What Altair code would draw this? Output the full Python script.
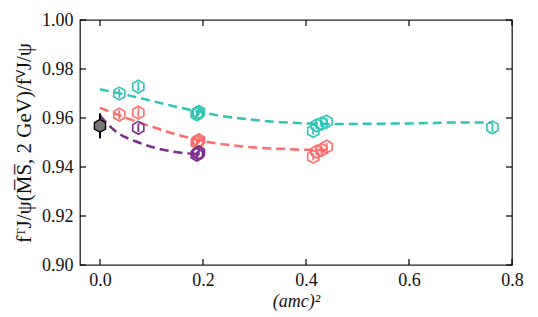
import altair as alt
import pandas as pd

# ---- data ----
teal_x = [0.0375, 0.0744, 0.188, 0.190, 0.192, 0.414, 0.421, 0.430, 0.440, 0.762]
teal_y = [0.9700, 0.9728, 0.9615, 0.9620, 0.9625, 0.9547, 0.9570, 0.9577, 0.9585, 0.9562]
teal_e = [0.0018, 0.0018, 0.0012, 0.0012, 0.0012, 0.0015, 0.0015, 0.0015, 0.0015, 0.0018]

red_x = [0.0375, 0.0744, 0.188, 0.190, 0.192, 0.414, 0.421, 0.430, 0.440]
red_y = [0.9614, 0.9622, 0.9500, 0.9505, 0.9510, 0.9442, 0.9463, 0.9470, 0.9483]
red_e = [0.0018, 0.0018, 0.0012, 0.0012, 0.0012, 0.0015, 0.0015, 0.0015, 0.0015]

pur_x = [0.0744, 0.188, 0.190, 0.192]
pur_y = [0.9560, 0.9450, 0.9455, 0.9460]
pur_e = [0.0018, 0.0012, 0.0012, 0.0012]

cont_x = [0.0]
cont_y = [0.9568]
cont_e = [0.0051]

teal_fit_x = [0.0, 0.05, 0.10, 0.15, 0.20, 0.25, 0.30, 0.35, 0.40, 0.45, 0.50, 0.55, 0.60, 0.65, 0.70, 0.762]
teal_fit_y = [0.9717, 0.9695, 0.9670, 0.9645, 0.9622, 0.9604, 0.9592, 0.9583, 0.9578, 0.9576, 0.9576, 0.9577, 0.9578, 0.9580, 0.9582, 0.9581]
red_fit_x = [0.0, 0.05, 0.10, 0.15, 0.20, 0.25, 0.30, 0.35, 0.40, 0.44]
red_fit_y = [0.9642, 0.9601, 0.9565, 0.9532, 0.9506, 0.9490, 0.9480, 0.9474, 0.9470, 0.9469]
pur_fit_x = [0.0, 0.03, 0.07, 0.11, 0.15, 0.19]
pur_fit_y = [0.9610, 0.9546, 0.9504, 0.9477, 0.9460, 0.9453]

x_ticks = [0.0, 0.2, 0.4, 0.6, 0.8]
y_ticks = [0.90, 0.92, 0.94, 0.96, 0.98, 1.00]

TEAL = "#2ec4b6"
RED = "#ff6b6b"
PURPLE = "#7b2d8e"

W, H = 432, 245
FONT = "Liberation Serif"
HEX = "M0,-1L0.866,-0.5L0.866,0.5L0,1L-0.866,0.5L-0.866,-0.5Z"

xs = alt.Scale(domain=[-0.0388, 0.8], nice=False, zero=False)
ys = alt.Scale(domain=[0.90, 1.00], nice=False, zero=False)

def pts(x, y, e):
    return pd.DataFrame({"x": x, "y": y, "lo": [a - b for a, b in zip(y, e)], "hi": [a + b for a, b in zip(y, e)]})

xax = alt.Axis(values=x_ticks, format=".1f", title="(amc)²", ticks=False, domain=False, grid=False,
               labelFlush=False, labelPadding=6, titleFontStyle="italic", titlePadding=3)
yax = alt.Axis(values=y_ticks, format=".2f", title="fᵀJ/ψ(M̅S̅, 2 GeV)/fⱽJ/ψ", ticks=False, domain=False,
               grid=False, labelFlush=False, labelPadding=7, titlePadding=7, titleFontSize=21)

layers = []
# dashed fit curves
for fx, fy, c in [(teal_fit_x, teal_fit_y, TEAL), (red_fit_x, red_fit_y, RED), (pur_fit_x, pur_fit_y, PURPLE)]:
    d = pd.DataFrame({"x": fx, "y": fy})
    layers.append(alt.Chart(d).mark_line(color=c, strokeWidth=2.5, strokeDash=[9, 5], interpolate="monotone")
                  .encode(x=alt.X("x:Q", scale=xs, axis=xax), y=alt.Y("y:Q", scale=ys, axis=yax)))

# data points with error bars
for x, y, e, c in [(teal_x, teal_y, teal_e, TEAL), (red_x, red_y, red_e, RED), (pur_x, pur_y, pur_e, PURPLE)]:
    d = pts(x, y, e)
    layers.append(alt.Chart(d).mark_rule(color=c, strokeWidth=1.8)
                  .encode(x=alt.X("x:Q", scale=xs), y=alt.Y("lo:Q", scale=ys), y2="hi:Q"))
    layers.append(alt.Chart(d).mark_point(shape=HEX, size=165, filled=False, color=c, strokeWidth=1.6, opacity=1)
                  .encode(x=alt.X("x:Q", scale=xs), y=alt.Y("y:Q", scale=ys)))

# continuum point
dc = pts(cont_x, cont_y, cont_e)
layers.append(alt.Chart(dc).mark_rule(color="black", strokeWidth=2)
              .encode(x=alt.X("x:Q", scale=xs), y=alt.Y("lo:Q", scale=ys), y2="hi:Q"))
layers.append(alt.Chart(dc).mark_point(shape=HEX, size=165, filled=True, fill="#777777", stroke="black",
                                       strokeWidth=1.4, opacity=1)
              .encode(x=alt.X("x:Q", scale=xs), y=alt.Y("y:Q", scale=ys)))

# inward ticks on all four sides
dxt = pd.DataFrame({"x": x_ticks})
dyt = pd.DataFrame({"y": y_ticks})
tk = dict(color="black", strokeWidth=1.2)
layers.append(alt.Chart(dxt).mark_rule(**tk).encode(x=alt.X("x:Q", scale=xs), y=alt.value(H), y2=alt.value(H - 6)))
layers.append(alt.Chart(dxt).mark_rule(**tk).encode(x=alt.X("x:Q", scale=xs), y=alt.value(0), y2=alt.value(6)))
layers.append(alt.Chart(dyt).mark_rule(**tk).encode(y=alt.Y("y:Q", scale=ys), x=alt.value(0), x2=alt.value(6)))
layers.append(alt.Chart(dyt).mark_rule(**tk).encode(y=alt.Y("y:Q", scale=ys), x=alt.value(W), x2=alt.value(W - 6)))

chart = alt.layer(*layers).properties(
    width=W, height=H,
    background="white",
    autosize=alt.AutoSizeParams(type="none"),
    padding={"left": 72, "top": 12, "right": 18, "bottom": 52},
).configure_view(stroke="#222222", strokeWidth=1.3).configure_axis(
    labelFont=FONT, labelFontSize=18, labelColor="#111111",
    titleFont=FONT, titleFontSize=18, titleFontWeight="normal", titleColor="#111111",
)

chart.save("out.html", embed_options={"renderer": "svg", "actions": False})
